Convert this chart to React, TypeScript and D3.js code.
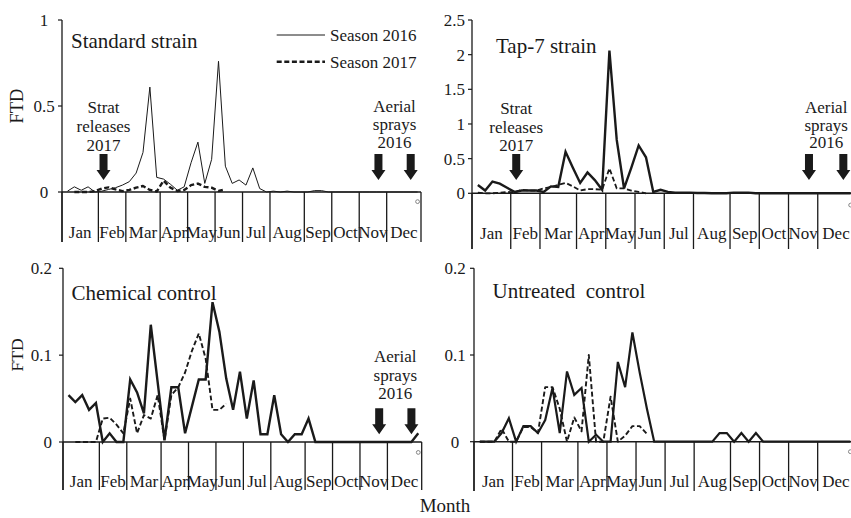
import React from 'react';
import * as d3 from 'd3';

// Weekly trap captures (FTD) by treatment, seasons 2016 and 2017
const months = ['Jan', 'Feb', 'Mar', 'Apr', 'May', 'Jun', 'Jul', 'Aug', 'Sep', 'Oct', 'Nov', 'Dec'];
const weeksPerMonth = [5, 4, 5, 4, 4, 4, 4, 5, 4, 4, 4, 5];

const standard2016 = [
  0.005, 0.03, 0.01, 0.03, 0, 0.005, 0.015, 0.025, 0.04, 0.06,
  0.11, 0.23, 0.61, 0.085, 0.075, 0.045, 0.01, 0.03, 0.17, 0.29,
  0.05, 0.19, 0.76, 0.15, 0.05, 0.07, 0.04, 0.14, 0.02, 0,
  0.005, 0, 0.005, 0, 0, 0, 0.008, 0.008, 0, 0,
  0, 0, 0, 0, 0, 0, 0, 0, 0, 0, 0, 0,
];
const standard2017 = [
  null, 0, 0, 0, 0.005, 0.02, 0.027, 0.015, 0.005, 0.012,
  0.025, 0.035, 0.012, 0.003, 0.066, 0.025, 0.006, 0.012, 0.04, 0.049,
  0.03, 0.025, 0.006, 0.015,
];

const tap2016 = [
  0.12, 0.04, 0.17, 0.14, 0.08, 0.02, 0.04, 0.04, 0.04, 0.02,
  0.1, 0.09, 0.6, 0.37, 0.15, 0.3, 0.19, 0.05, 2.06, 0.77,
  0.07, 0.37, 0.69, 0.52, 0.02, 0.05, 0.02, 0.01, 0.01, 0.01,
  0.005, 0.005, 0, 0, 0, 0.01, 0.01, 0.01, 0, 0,
  0, 0, 0, 0, 0, 0, 0, 0, 0, 0, 0, 0,
];
const tap2017 = [
  0.01, 0, 0, 0.01, 0.02, 0.01, 0.05, 0.04, 0.04, 0.07,
  0.09, 0.12, 0.15, 0.1, 0.04, 0.06, 0.06, 0.05, 0.36, 0.07,
  0.07, 0.04, 0.02, 0,
];

const chemical2016 = [
  0.054, 0.046, 0.054, 0.037, 0.045, 0, 0.01, 0, 0, 0.072,
  0.057, 0.033, 0.135, 0.069, 0.002, 0.063, 0.063, 0.01, 0.041, 0.072,
  0.072, 0.161, 0.127, 0.073, 0.037, 0.081, 0.027, 0.071, 0.009, 0.009,
  0.054, 0.009, 0, 0.009, 0.009, 0.027, 0, 0, 0, 0,
  0, 0, 0, 0, 0, 0, 0, 0, 0, 0, 0, 0.01,
];
const chemical2017 = [
  null, 0, 0, 0, 0, 0.027, 0.028, 0.02, 0.01, 0.05,
  0.01, 0.031, 0.027, 0.054, 0.002, 0.054, 0.063, 0.08, 0.105, 0.125,
  0.096, 0.037, 0.037, 0.044,
];

const untreated2016 = [
  0, 0, 0, 0.01, 0.027, 0, 0.018, 0.018, 0.01, 0.025,
  0.062, 0.01, 0.081, 0.054, 0.062, 0, 0.008, 0, 0, 0.092,
  0.063, 0.126, 0.08, 0.038, 0, 0, 0, 0, 0, 0,
  0, 0, 0, 0.01, 0.01, 0, 0.01, 0, 0.01, 0,
  0, 0, 0, 0, 0, 0, 0, 0, 0, 0, 0, 0,
];
const untreated2017 = [
  0, 0, 0, 0.015, 0, 0, 0.017, 0.017, 0.01, 0.063,
  0.063, 0.038, 0, 0.028, 0.012, 0.1, 0, 0, 0.052, 0,
  0.007, 0.018, 0.018, 0.009,
];

// stray marker at the last week, just below zero
const endMarkers = [-0.056, -0.17, -0.012, -0.0115];

const ticksStandard = [0, 0.5, 1];
const ticksTap = [0, 0.5, 1, 1.5, 2, 2.5];
const ticksControl = [0, 0.1, 0.2];

const releaseWeeks = [5.75];
const sprayWeeks = [45.8, 50.5];
const releaseText = ['Strat', 'releases', '2017'];
const sprayText = ['Aerial', 'sprays', '2016'];
const seasonLabels = ['Season 2016', 'Season 2017'];
const titles = ['Standard strain', 'Tap-7 strain', 'Chemical control', 'Untreated\u00a0 control'];

const FONT = "'Liberation Serif', 'Times New Roman', serif";
const INK = '#1a1a1a';
const LEAD_IN = 0.3;

type Layout = {
  x0: number; x1: number; yZero: number; yTop: number; bottom: number;
  yMax: number; tickX: number; tickAnchor: 'end' | 'middle';
  labelY: number; arrowTop: number; arrowBottom: number;
  textBase: number; lineGap: number;
};

function Arrow({ x, top, bottom }: { x: number; top: number; bottom: number }) {
  const headH = 10;
  const shaftW = 8;
  const headW = 14;
  const p = d3.path();
  p.moveTo(x - shaftW / 2, top);
  p.lineTo(x + shaftW / 2, top);
  p.lineTo(x + shaftW / 2, bottom - headH);
  p.lineTo(x + headW / 2, bottom - headH);
  p.lineTo(x, bottom);
  p.lineTo(x - headW / 2, bottom - headH);
  p.lineTo(x - shaftW / 2, bottom - headH);
  p.closePath();
  return <path d={p.toString()} fill={INK} />;
}

function Panel(props: {
  layout: Layout;
  s2016: (number | null)[];
  s2017: (number | null)[];
  ticks: number[];
  title: string;
  titleX: number;
  titleY: number;
  w2016: number;
  w2017: number;
  marker: number;
  showRelease: boolean;
  showSpray: boolean;
}) {
  const { layout: L } = props;
  const total = d3.sum(weeksPerMonth);
  const xs = d3.scaleLinear().domain([-LEAD_IN, total]).range([L.x0, L.x1]);
  const ys = d3.scaleLinear().domain([0, L.yMax]).range([L.yZero, L.yTop]);
  const edges = [-LEAD_IN, ...d3.cumsum(weeksPerMonth)];

  const line = d3
    .line<number | null>()
    .defined((d) => d != null)
    .x((_, i) => xs(i + 0.5))
    .y((d) => ys(d as number));

  const sprayMid = (xs(sprayWeeks[0]) + xs(sprayWeeks[1])) / 2;

  return (
    <g>
      {/* month labels */}
      {months.map((m, i) => (
        <text
          key={m}
          x={(xs(edges[i]) + xs(edges[i + 1])) / 2}
          y={L.labelY}
          textAnchor="middle"
          fontSize={17}
          fontFamily={FONT}
          fill={INK}
        >
          {m}
        </text>
      ))}
      {/* month separators */}
      {edges.map((e, i) => (
        <line key={i} x1={xs(e)} x2={xs(e)} y1={L.yZero} y2={L.bottom} stroke={INK} strokeWidth={1.3} />
      ))}
      {/* y axis */}
      <line x1={L.x0} x2={L.x0} y1={L.yTop} y2={L.bottom} stroke={INK} strokeWidth={1.3} />
      {props.ticks.map((t) => (
        <g key={t}>
          <line x1={L.x0 - 4} x2={L.x0} y1={ys(t)} y2={ys(t)} stroke={INK} strokeWidth={1.2} />
          <text
            x={L.tickX}
            y={ys(t) + 6}
            textAnchor={L.tickAnchor}
            fontSize={17}
            fontFamily={FONT}
            fill={INK}
          >
            {String(t)}
          </text>
        </g>
      ))}
      {/* x axis */}
      <line x1={L.x0} x2={L.x1} y1={L.yZero} y2={L.yZero} stroke={INK} strokeWidth={1.4} />

      <text x={props.titleX} y={props.titleY} fontSize={21} fontFamily={FONT} fill={INK}>
        {props.title}
      </text>

      {/* season series */}
      <path
        d={line(props.s2017) || ''}
        fill="none"
        stroke={INK}
        strokeWidth={props.w2017}
        strokeDasharray="5,2.6"
        strokeLinejoin="round"
      />
      <path
        d={line(props.s2016) || ''}
        fill="none"
        stroke={INK}
        strokeWidth={props.w2016}
        strokeLinejoin="miter"
      />
      <circle
        cx={xs(props.s2016.length - 0.5)}
        cy={ys(props.marker)}
        r={1.9}
        fill="#fff"
        stroke="#777"
        strokeWidth={0.9}
      />

      {props.showRelease &&
        releaseWeeks.map((w) => (
          <g key={w}>
            {releaseText.map((t, k) => (
              <text
                key={t}
                x={xs(w)}
                y={L.textBase + k * L.lineGap}
                textAnchor="middle"
                fontSize={17}
                fontFamily={FONT}
                fill={INK}
              >
                {t}
              </text>
            ))}
            <Arrow x={xs(w)} top={L.arrowTop} bottom={L.arrowBottom} />
          </g>
        ))}
      {props.showSpray && (
        <g>
          {sprayText.map((t, k) => (
            <text
              key={t}
              x={sprayMid}
              y={L.textBase - 1 + k * (L.lineGap - 0.8)}
              textAnchor="middle"
              fontSize={17}
              fontFamily={FONT}
              fill={INK}
            >
              {t}
            </text>
          ))}
          {sprayWeeks.map((w) => (
            <Arrow key={w} x={xs(w)} top={L.arrowTop} bottom={L.arrowBottom} />
          ))}
        </g>
      )}
    </g>
  );
}

export default function App() {
  const p1: Layout = {
    x0: 62, x1: 421, yZero: 192, yTop: 20, bottom: 242, yMax: 1,
    tickX: 44, tickAnchor: 'middle', labelY: 238,
    arrowTop: 154, arrowBottom: 180, textBase: 113, lineGap: 19,
  };
  const p2: Layout = {
    x0: 472, x1: 854.3, yZero: 193.3, yTop: 20, bottom: 249, yMax: 2.5,
    tickX: 465, tickAnchor: 'end', labelY: 239,
    arrowTop: 154, arrowBottom: 180, textBase: 114, lineGap: 18.5,
  };
  const p3: Layout = {
    x0: 63, x1: 421.7, yZero: 442, yTop: 268.3, bottom: 490, yMax: 0.2,
    tickX: 52, tickAnchor: 'end', labelY: 487,
    arrowTop: 408.3, arrowBottom: 434.3, textBase: 363, lineGap: 19.5,
  };
  const p4: Layout = {
    x0: 474, x1: 854, yZero: 441.7, yTop: 268.3, bottom: 491, yMax: 0.2,
    tickX: 455, tickAnchor: 'middle', labelY: 487,
    arrowTop: 408, arrowBottom: 434, textBase: 363, lineGap: 19.5,
  };

  return (
    <svg
      width={851}
      height={518}
      viewBox="0 0 851 518"
      style={{ position: 'absolute', left: 0, top: 0, background: '#fff' }}
    >
      <rect x={0} y={0} width={851} height={518} fill="#fff" />

      <Panel layout={p1} s2016={standard2016} s2017={standard2017} ticks={ticksStandard}
        title={titles[0]} titleX={71} titleY={48} w2016={1} w2017={2.4} marker={endMarkers[0]}
        showRelease showSpray />
      <Panel layout={p2} s2016={tap2016} s2017={tap2017} ticks={ticksTap}
        title={titles[1]} titleX={496} titleY={53} w2016={2.4} w2017={1.8} marker={endMarkers[1]}
        showRelease showSpray />
      <Panel layout={p3} s2016={chemical2016} s2017={chemical2017} ticks={ticksControl}
        title={titles[2]} titleX={71.5} titleY={300} w2016={2.4} w2017={1.9} marker={endMarkers[2]}
        showRelease={false} showSpray />
      <Panel layout={p4} s2016={untreated2016} s2017={untreated2017} ticks={ticksControl}
        title={titles[3]} titleX={492.5} titleY={298} w2016={2.2} w2017={1.9} marker={endMarkers[3]}
        showRelease={false} showSpray={false} />

      {/* legend */}
      <line x1={276.7} x2={325} y1={35} y2={35} stroke={INK} strokeWidth={1} />
      <text x={330} y={41} fontSize={17} fontFamily={FONT} fill={INK}>{seasonLabels[0]}</text>
      <line x1={276.7} x2={325} y1={61.7} y2={61.7} stroke={INK} strokeWidth={2.4} strokeDasharray="5,2.6" />
      <text x={330} y={67.5} fontSize={17} fontFamily={FONT} fill={INK}>{seasonLabels[1]}</text>

      {/* axis titles */}
      <text transform="translate(23,106) rotate(-90)" textAnchor="middle" fontSize={18.5} fontFamily={FONT} fill={INK}>FTD</text>
      <text transform="translate(23,355) rotate(-90)" textAnchor="middle" fontSize={17.5} fontFamily={FONT} fill={INK}>FTD</text>
      <text x={445} y={512} textAnchor="middle" fontSize={19} fontFamily={FONT} fill={INK}>Month</text>
    </svg>
  );
}
